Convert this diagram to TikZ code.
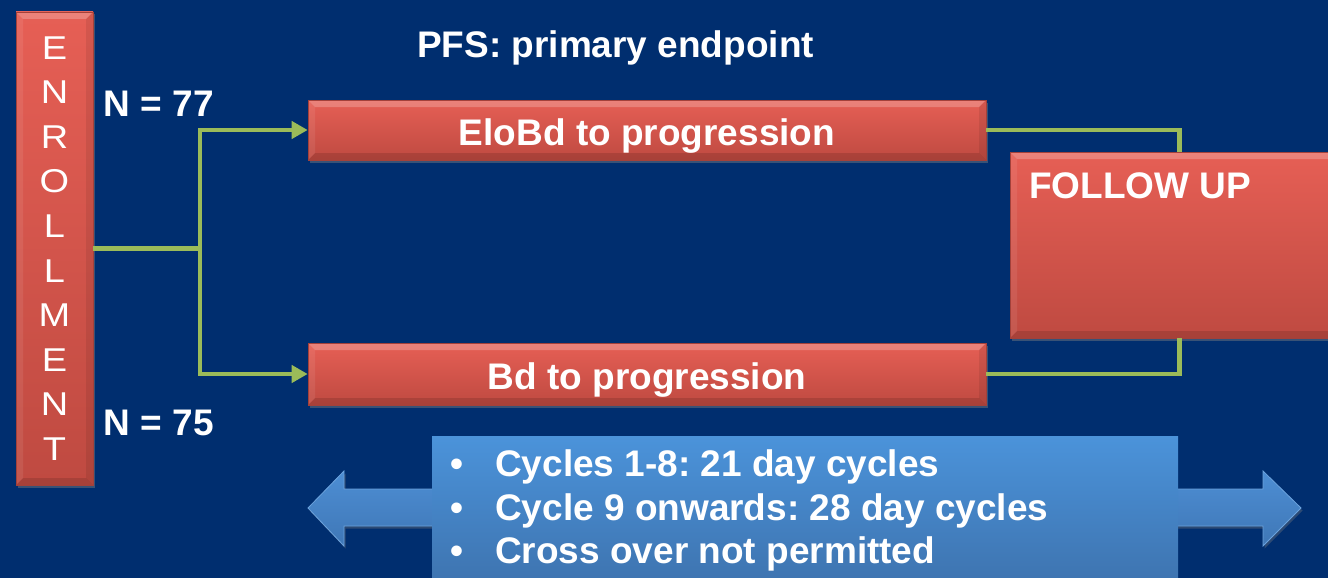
\documentclass[tikz,border=0pt]{standalone}
\usepackage{fontspec}
\setmainfont{Liberation Sans}
\newfontfamily\widesans[FakeStretch=1.15]{Liberation Sans}
\usetikzlibrary{arrows.meta,shadows}

\definecolor{bgblue}{HTML}{002E6F}
\definecolor{redtop}{HTML}{E65F55}
\definecolor{redbot}{HTML}{BF4A41}
\definecolor{rededge}{HTML}{A3413A}
\definecolor{linkgreen}{HTML}{9BBB59}
\definecolor{bluetop}{HTML}{4B93DA}
\definecolor{bluebot}{HTML}{3E74B0}
\definecolor{arrowtop}{HTML}{4D8ED4}
\definecolor{arrowbot}{HTML}{3F77B6}
\definecolor{arrowedge}{HTML}{6CA3DD}

\newcommand\pxfont[1]{\fontsize{#1}{#1}\selectfont\frenchspacing}

\begin{document}
\begin{tikzpicture}[x=1pt,y=-1pt,
  redbox/.style={rectangle, inner sep=0pt, draw=rededge, line width=0.6pt,
    top color=redtop, bottom color=redbot,
    drop shadow={opacity=0.45, shadow xshift=1.5pt, shadow yshift=-2.5pt},
    path picture={
      \fill[white,opacity=0.22]
        (path picture bounding box.north west) -- (path picture bounding box.north east)
        -- ([xshift=-7pt,yshift=-7pt]path picture bounding box.north east)
        -- ([xshift=7pt,yshift=-7pt]path picture bounding box.north west) -- cycle;
      \fill[black,opacity=0.12]
        (path picture bounding box.south west) -- (path picture bounding box.south east)
        -- ([xshift=-7pt,yshift=7pt]path picture bounding box.south east)
        -- ([xshift=7pt,yshift=7pt]path picture bounding box.south west) -- cycle;
      \fill[black,opacity=0.08]
        (path picture bounding box.north east) -- (path picture bounding box.south east)
        -- ([xshift=-7pt,yshift=7pt]path picture bounding box.south east)
        -- ([xshift=-7pt,yshift=-7pt]path picture bounding box.north east) -- cycle;
      \fill[white,opacity=0.08]
        (path picture bounding box.north west) -- (path picture bounding box.south west)
        -- ([xshift=7pt,yshift=7pt]path picture bounding box.south west)
        -- ([xshift=7pt,yshift=-7pt]path picture bounding box.north west) -- cycle;
    }},
  armbox/.style={redbox, minimum width=678pt, text=white,
    font=\bfseries\pxfont{37}, text height=36pt, text depth=6pt},
  label/.style={text=white, inner sep=0pt, font=\bfseries\pxfont{37}},
  link/.style={draw=linkgreen, line width=4.5pt},
  linkarrow/.style={link, -{Triangle[length=16pt,width=17pt]}},
  bluebox/.style={rectangle, inner sep=0pt, top color=bluetop, bottom color=bluebot},
  bigarrow/.style={draw=arrowedge, line width=0.8pt, top color=arrowtop, bottom color=arrowbot,
    drop shadow={opacity=0.35, shadow xshift=1.5pt, shadow yshift=-2.5pt}}
]
\useasboundingbox (0,0) rectangle (1328,578);
\fill[bgblue] (0,0) rectangle (1328,578);
\clip (0,0) rectangle (1328,578);

% title
\node[label, anchor=base west] (title) at (417,58) {PFS: primary endpoint};

% enrollment column
\node[redbox, minimum width=77pt, minimum height=473pt, text=white, align=center,
      font=\widesans\fontsize{33}{44.6}\selectfont] (enr) at (54.5,248.5)
  {E\\N\\R\\O\\L\\L\\M\\E\\N\\T};

% arm sizes
\node[label, anchor=base west] (n77) at (103.5,116) {N = 77};
\node[label, anchor=base west] (n75) at (103.5,435) {N = 75};

% treatment arms
\node[armbox, minimum height=60pt] (t1) at (647,130) {EloBd to progression};
\node[armbox, minimum height=62pt] (t2) at (647,374) {Bd to progression};

% follow up
\node[redbox, minimum width=335pt, minimum height=186pt] (fu) at (1177.5,245) {};
\node[label, anchor=base west] (futxt) at (1029,198) {FOLLOW UP};

% randomisation and follow-up connectors
\coordinate (split) at (200,248.5);
\draw[link] (enr.east) -- (split);
\draw[linkarrow] (split) |- (t1.west);
\draw[linkarrow] (split) |- (t2.west);
\draw[link] (t1.east) -| ([xshift=170pt]fu.north west);
\draw[link] (t2.east) -| ([xshift=170pt]fu.south west);

% double-headed timeline arrow behind the schedule box
\path[bigarrow] (308,508) -- (344,471) -- (344,489) -- (1263,489) -- (1263,471)
  -- (1301,508) -- (1263,546) -- (1263,526) -- (344,526) -- (344,546) -- cycle;

% treatment schedule
\node[bluebox, minimum width=746pt, minimum height=146pt] (sched) at (805,509) {};
\node[label, anchor=base west] (b1) at (450,476) {\makebox[45pt][l]{\textbullet}Cycles 1-8: 21 day cycles};
\node[label, anchor=base west] (b2) at (450,520) {\makebox[45pt][l]{\textbullet}Cycle 9 onwards: 28 day cycles};
\node[label, anchor=base west] (b3) at (450,563.5) {\makebox[45pt][l]{\textbullet}Cross over not permitted};
\end{tikzpicture}
\end{document}
